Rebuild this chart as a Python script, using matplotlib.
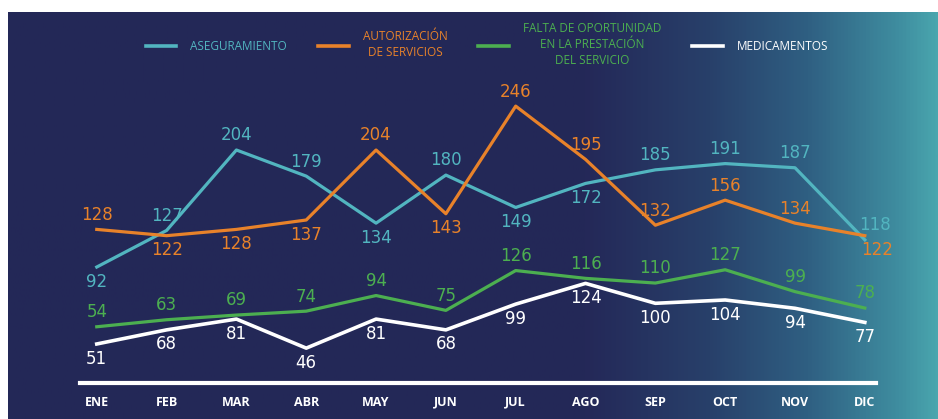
import numpy as np
import matplotlib
matplotlib.use("Agg")
import matplotlib.pyplot as plt
from matplotlib.colors import LinearSegmentedColormap

# data
months = ["ENE", "FEB", "MAR", "ABR", "MAY", "JUN", "JUL", "AGO", "SEP", "OCT", "NOV", "DIC"]
aseguramiento = [92, 127, 204, 179, 134, 180, 149, 172, 185, 191, 187, 118]
autorizacion = [128, 122, 128, 137, 204, 143, 246, 195, 132, 156, 134, 122]
falta_oportunidad = [54, 63, 69, 74, 94, 75, 126, 116, 110, 127, 99, 78]
medicamentos = [51, 68, 81, 46, 81, 68, 99, 124, 100, 104, 94, 77]

# label side for each point: 1 above, -1 below
pos_aseg = [-1, 1, 1, 1, -1, 1, -1, -1, 1, 1, 1, 1]
pos_aut = [1, -1, -1, -1, 1, -1, 1, 1, 1, 1, 1, -1]
pos_falta = [1, 1, 1, 1, 1, 1, 1, 1, 1, 1, 1, 1]
pos_med = [-1, -1, -1, -1, -1, -1, -1, -1, -1, -1, -1, -1]

TEAL = "#52b5c0"
ORANGE = "#e8822a"
GREEN = "#4caf50"
WHITE = "#ffffff"
NAVY = "#232857"

plt.rcParams["font.family"] = ["Open Sans", "DejaVu Sans"]

W, H = 938, 419
fig = plt.figure(figsize=(W / 100, H / 100), dpi=100)
fig.patch.set_facecolor("white")

# background panel with gradient to teal on the right
bg = fig.add_axes([8 / W, 0, (W - 8) / W, (H - 12) / H])
cmap = LinearSegmentedColormap.from_list(
    "bg",
    [(0.0, NAVY), (0.62, "#242858"), (0.755, "#28406a"), (0.86, "#2f5f82"),
     (0.96, "#3f8ea0"), (1.0, "#4aa6ae")],
)
grad = np.linspace(0, 1, 512).reshape(1, -1)
bg.imshow(grad, aspect="auto", cmap=cmap, extent=[0, 1, 0, 1])
bg.set_axis_off()

# main axes (scale for aseguramiento / autorizacion)
ax = fig.add_axes([80 / W, 36 / H, 796 / W, 303 / H])
ax.set_facecolor("none")
x = np.arange(len(months))
ax.set_xlim(-0.24, 11.16)
ax.set_ylim(-19, 271)

# the lower two series sit on their own scales in the original
ax_g = ax.twinx()
ax_g.set_ylim(-18, 370)
ax_w = ax.twinx()
ax_w.set_ylim(4, 369)

l1, = ax.plot(x, aseguramiento, color=TEAL, lw=2.3, label="ASEGURAMIENTO", zorder=3)
l2, = ax.plot(x, autorizacion, color=ORANGE, lw=2.3, label="AUTORIZACIÓN\nDE SERVICIOS", zorder=3)
l3, = ax_g.plot(x, falta_oportunidad, color=GREEN, lw=2.3,
                label="FALTA DE OPORTUNIDAD\nEN LA PRESTACIÓN\nDEL SERVICIO", zorder=3)
l4, = ax_w.plot(x, medicamentos, color=WHITE, lw=2.6, label="MEDICAMENTOS", zorder=3)


def add_labels(axis, values, sides, color, dx_last=0):
    for i, (xi, v, s) in enumerate(zip(x, values, sides)):
        dx = dx_last if i == len(values) - 1 else 0
        axis.annotate(str(v), (xi, v), xytext=(dx, 10.5 * s), textcoords="offset points",
                      ha="center", va="center", color=color, fontsize=12,
                      family="DejaVu Sans")


add_labels(ax, aseguramiento, pos_aseg, TEAL, dx_last=7)
add_labels(ax, autorizacion, pos_aut, ORANGE, dx_last=9)
add_labels(ax_g, falta_oportunidad, pos_falta, GREEN)
add_labels(ax_w, medicamentos, pos_med, WHITE)

for a in (ax, ax_g, ax_w):
    for side in ("top", "right", "left"):
        a.spines[side].set_visible(False)
    a.set_yticks([])
ax_g.spines["bottom"].set_visible(False)
ax_w.spines["bottom"].set_visible(False)
ax.spines["bottom"].set_color("white")
ax.spines["bottom"].set_linewidth(3)

ax.set_xticks(x)
ax.set_xticklabels(months, color="white", fontsize=9, fontweight="bold")
ax.tick_params(axis="x", length=0, pad=9)

leg = fig.legend(handles=[l1, l2, l3, l4], loc="center", bbox_to_anchor=(487 / W, 1 - 45 / H),
                 ncol=4, frameon=False, fontsize=8.5, labelcolor="linecolor",
                 handlelength=2.6, handletextpad=1.2, columnspacing=2.6)
for t in leg.get_texts():
    t.set_multialignment("center")
    t.set_linespacing(1.3)
for h in leg.get_lines():
    h.set_linewidth(2.6)

fig.savefig("out.png", dpi=100)
